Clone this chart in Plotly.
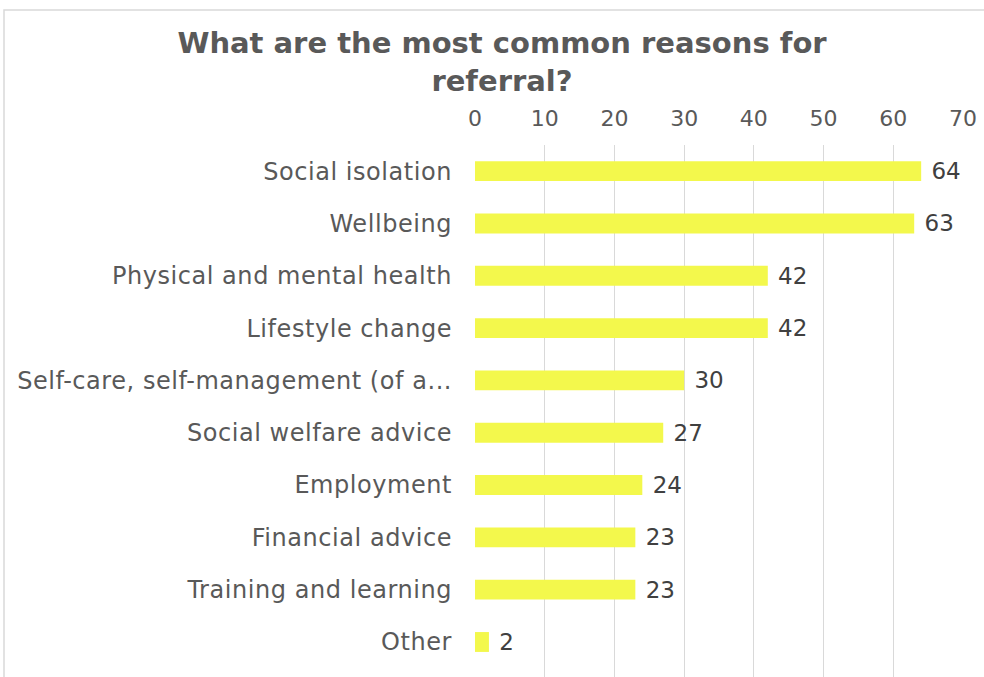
import plotly.graph_objects as go

categories = [
    "Social isolation",
    "Wellbeing",
    "Physical and mental health",
    "Lifestyle change",
    "Self-care, self-management (of a...",
    "Social welfare advice",
    "Employment",
    "Financial advice",
    "Training and learning",
    "Other",
]
values = [64, 63, 42, 42, 30, 27, 24, 23, 23, 2]
x_ticks = [0, 10, 20, 30, 40, 50, 60, 70]
title_text = "What are the most common reasons for<br>referral?"

W, H = 984, 677
L, R, T, B = 475, 21, 145, 0
pw, ph = W - L - R, H - T - B

fig = go.Figure(
    go.Bar(
        x=values,
        y=categories,
        orientation="h",
        marker=dict(color="#F3F84C", line=dict(width=0)),
        width=0.38,
        text=["\u00a0" + str(v) for v in values],
        textposition="outside",
        constraintext="none",
        cliponaxis=False,
        textfont=dict(family="DejaVu Sans", size=23, color="#404040"),
    )
)

fig.update_layout(
    width=W,
    height=H,
    margin=dict(l=L, r=R, t=T, b=B),
    paper_bgcolor="white",
    plot_bgcolor="white",
    showlegend=False,
    title=dict(
        text=title_text,
        x=502 / W,
        xanchor="center",
        y=1 - 53 / H,
        yanchor="middle",
        font=dict(family="DejaVu Sans", size=29, color="#595959", weight="bold"),
    ),
    xaxis=dict(
        side="top",
        range=[0, 70],
        tickvals=x_ticks,
        showgrid=True,
        gridcolor="#D9D9D9",
        gridwidth=1,
        zeroline=False,
        showline=False,
        ticks="",
        ticklabelstandoff=14,
        tickfont=dict(family="DejaVu Sans", size=22, color="#595959"),
        fixedrange=True,
    ),
    yaxis=dict(
        type="category",
        categoryorder="array",
        categoryarray=categories,
        range=[9 + (677 - 642) / 52.3, -0.5],
        showgrid=False,
        zeroline=False,
        showline=False,
        ticks="",
        ticklabelstandoff=22,
        tickfont=dict(family="DejaVu Sans", size=24, color="#595959"),
        fixedrange=True,
    ),
    bargap=0.6,
)

# chart border (cropped Excel-style frame)
fig.add_shape(
    type="rect",
    xref="paper",
    yref="paper",
    x0=(4 - L) / pw,
    x1=(W + 20 - L) / pw,
    y0=-0.2,
    y1=(H - B - 10) / ph,
    line=dict(color="#D9D9D9", width=1.5),
    fillcolor="rgba(0,0,0,0)",
    layer="below",
)

post = (
    "document.querySelectorAll('.ytick text').forEach(function(t){"
    "t.style.letterSpacing='0.55px';});"
)

fig.write_html("out.html", post_script=post)
